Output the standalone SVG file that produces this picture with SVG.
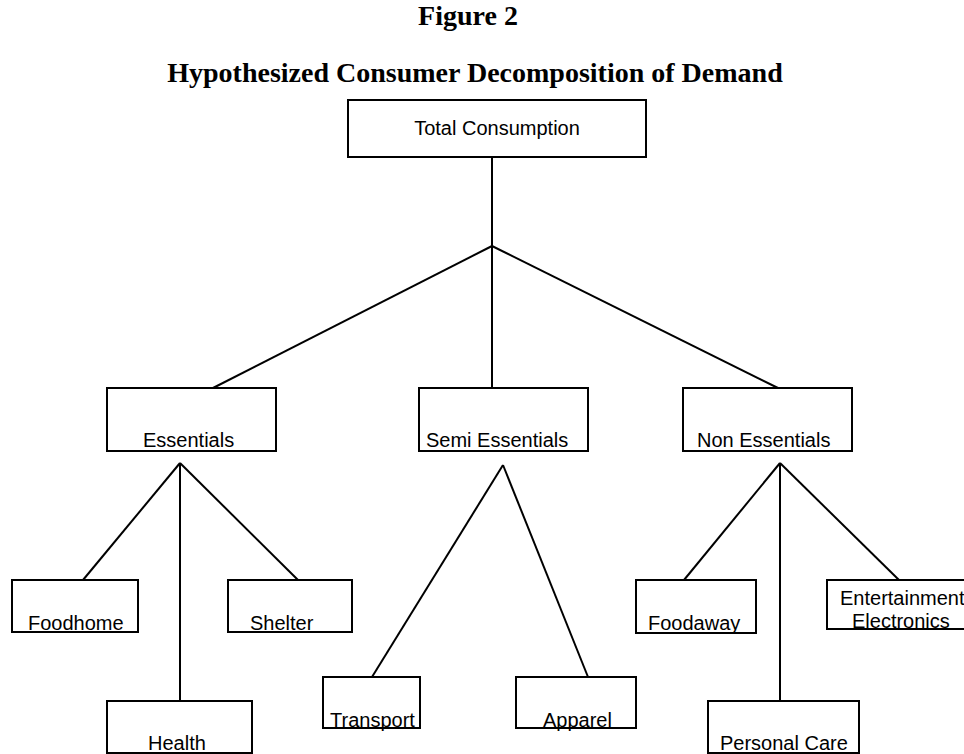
<svg xmlns="http://www.w3.org/2000/svg" width="964" height="754" viewBox="0 0 964 754">
<style>
.box{fill:#fff;stroke:#000;stroke-width:2}
.lbl{font-family:"Liberation Sans",Arial,sans-serif;font-size:20px;fill:#000}
.ttl{font-family:"Liberation Serif","Times New Roman",serif;font-size:28px;font-weight:bold;fill:#000;text-anchor:middle}
.con line{stroke:#000;stroke-width:2}
</style>
<rect width="964" height="754" fill="#fff"/>
<text class="ttl" x="468" y="25">Figure 2</text>
<text class="ttl" x="475" y="82">Hypothesized Consumer Decomposition of Demand</text>
<g class="con" id="connectors">
<line x1="492" y1="157" x2="492" y2="388"/>
<line x1="492" y1="246" x2="213" y2="388"/>
<line x1="492" y1="246" x2="778" y2="388"/>
<line x1="180" y1="463" x2="83" y2="580"/>
<line x1="180" y1="463" x2="180" y2="701"/>
<line x1="180" y1="463" x2="298" y2="580"/>
<line x1="503" y1="465" x2="372" y2="677"/>
<line x1="503" y1="465" x2="588" y2="677"/>
<line x1="780" y1="463" x2="684" y2="580"/>
<line x1="780" y1="463" x2="780" y2="701"/>
<line x1="780" y1="463" x2="899" y2="580"/>
</g>
<g id="total"><rect class="box" x="348" y="100" width="298" height="57"/><text class="lbl" x="497" y="135" text-anchor="middle">Total Consumption</text></g>
<g id="essentials"><rect class="box" x="107" y="388" width="169" height="63"/><text class="lbl" x="143" y="447">Essentials</text></g>
<g id="semi"><rect class="box" x="419" y="388" width="169" height="63"/><text class="lbl" x="426" y="447">Semi Essentials</text></g>
<g id="non"><rect class="box" x="683" y="388" width="169" height="63"/><text class="lbl" x="697" y="447">Non Essentials</text></g>
<g id="foodhome"><rect class="box" x="12" y="580" width="126" height="52"/><text class="lbl" x="28" y="630">Foodhome</text></g>
<g id="shelter"><rect class="box" x="228" y="580" width="124" height="52"/><text class="lbl" x="250" y="630">Shelter</text></g>
<g id="health"><rect class="box" x="107" y="701" width="145" height="52"/><text class="lbl" x="148" y="750">Health</text></g>
<g id="transport"><rect class="box" x="323" y="677" width="97" height="51"/><text class="lbl" x="330" y="727">Transport</text></g>
<g id="apparel"><rect class="box" x="516" y="677" width="120" height="51"/><text class="lbl" x="543" y="727">Apparel</text></g>
<g id="foodaway"><rect class="box" x="636" y="580" width="120" height="53"/><text class="lbl" x="648" y="630">Foodaway</text></g>
<g id="entertainment"><rect class="box" x="827" y="580" width="140" height="49"/><text class="lbl" x="840" y="605">Entertainment</text><text class="lbl" x="852" y="628">Electronics</text></g>
<g id="personal"><rect class="box" x="708" y="701" width="151" height="52"/><text class="lbl" x="720" y="750">Personal Care</text></g>
</svg>
